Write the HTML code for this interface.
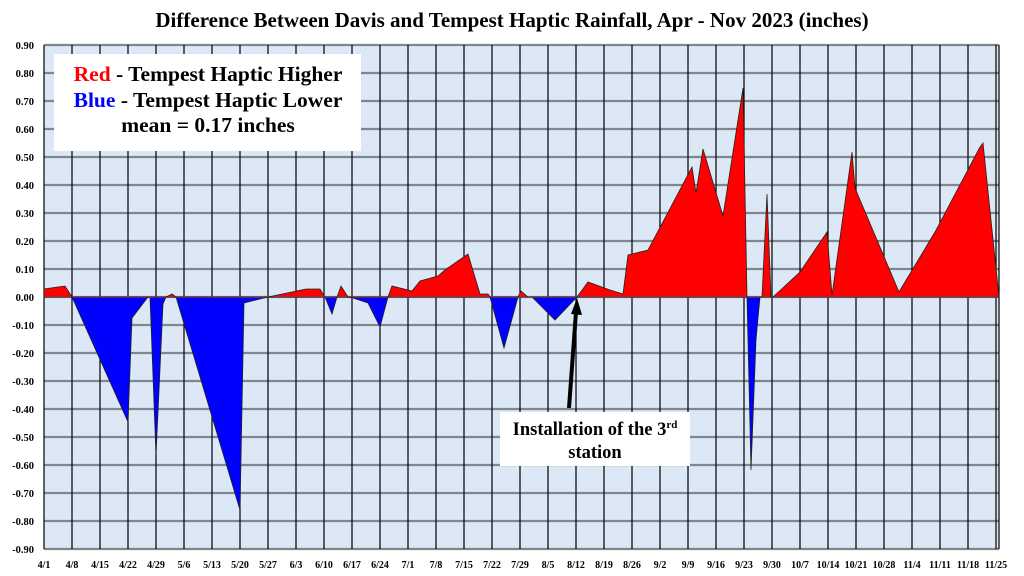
<!DOCTYPE html>
<html><head><style>body{margin:0;background:#fff}svg{display:block;font-family:"Liberation Serif",serif;font-weight:bold}</style></head>
<body>
<svg width="1024" height="576" viewBox="0 0 1024 576">
<text x="512" y="27" text-anchor="middle" font-size="21">Difference Between Davis and Tempest Haptic Rainfall, Apr - Nov 2023 (inches)</text>
<rect x="44" y="45" width="955" height="504" fill="#dce8f5"/>
<path stroke="#7f8690" stroke-width="2.2" fill="none" d="M44 45H999M44 73H999M44 101H999M44 129H999M44 157H999M44 185H999M44 213H999M44 241H999M44 269H999M44 297H999M44 325H999M44 353H999M44 381H999M44 409H999M44 437H999M44 465H999M44 493H999M44 521H999M44 549H999"/>
<path stroke="#000" stroke-width="1.2" fill="none" d="M44 45V549M72 45V549M100 45V549M128 45V549M156 45V549M184 45V549M212 45V549M240 45V549M268 45V549M296 45V549M324 45V549M352 45V549M380 45V549M408 45V549M436 45V549M464 45V549M492 45V549M520 45V549M548 45V549M576 45V549M604 45V549M632 45V549M660 45V549M688 45V549M716 45V549M744 45V549M772 45V549M800 45V549M828 45V549M856 45V549M884 45V549M912 45V549M940 45V549M968 45V549M996 45V549M999 45V549"/>
<g font-size="10.5" text-anchor="end">
<text x="34" y="49">0.90</text><text x="34" y="77">0.80</text><text x="34" y="105">0.70</text><text x="34" y="133">0.60</text><text x="34" y="161">0.50</text><text x="34" y="189">0.40</text><text x="34" y="217">0.30</text><text x="34" y="245">0.20</text><text x="34" y="273">0.10</text><text x="34" y="301">0.00</text><text x="34" y="329">-0.10</text><text x="34" y="357">-0.20</text><text x="34" y="385">-0.30</text><text x="34" y="413">-0.40</text><text x="34" y="441">-0.50</text><text x="34" y="469">-0.60</text><text x="34" y="497">-0.70</text><text x="34" y="525">-0.80</text><text x="34" y="553">-0.90</text>
</g>
<g font-size="10" text-anchor="middle">
<text x="44" y="568">4/1</text><text x="72" y="568">4/8</text><text x="100" y="568">4/15</text><text x="128" y="568">4/22</text><text x="156" y="568">4/29</text><text x="184" y="568">5/6</text><text x="212" y="568">5/13</text><text x="240" y="568">5/20</text><text x="268" y="568">5/27</text><text x="296" y="568">6/3</text><text x="324" y="568">6/10</text><text x="352" y="568">6/17</text><text x="380" y="568">6/24</text><text x="408" y="568">7/1</text><text x="436" y="568">7/8</text><text x="464" y="568">7/15</text><text x="492" y="568">7/22</text><text x="520" y="568">7/29</text><text x="548" y="568">8/5</text><text x="576" y="568">8/12</text><text x="604" y="568">8/19</text><text x="632" y="568">8/26</text><text x="660" y="568">9/2</text><text x="688" y="568">9/9</text><text x="716" y="568">9/16</text><text x="744" y="568">9/23</text><text x="772" y="568">9/30</text><text x="800" y="568">10/7</text><text x="828" y="568">10/14</text><text x="856" y="568">10/21</text><text x="884" y="568">10/28</text><text x="912" y="568">11/4</text><text x="940" y="568">11/11</text><text x="968" y="568">11/18</text><text x="996" y="568">11/25</text>
</g>
<defs>
<clipPath id="up"><rect x="0" y="0" width="1024" height="297"/></clipPath>
<clipPath id="dn"><rect x="0" y="297" width="1024" height="300"/></clipPath>
<polygon id="d" points="44,297 44,289 65,286 72,297 128,422 132,318 148,297 150,297 156,455 163,304 166,297 172,294 176,297 240,510 244,303 268,297 306,289 320,289 325,297 332,314 337,297 341,286 348,297 353,298 368,303 380,327 388,297 392,286 412,291 420,281 438,276 445,270 468,254 480,294 488,294 490,297 504,348 518,297 521,291 528,297 532,297 555,320 577,297 588,282 610,290 623,294 628,255 648,250 692,167 696,193 703,149 723,216 743,88 747,297 751,470 756,340 760,297 762,297 767,194 771,297 773,297 800,272 827,232 832,295 852,152 855,188 899,292 935,232 980,147 983,143 999,297"/>
</defs>
<use href="#d" fill="#f00" clip-path="url(#up)"/>
<use href="#d" fill="#00f" clip-path="url(#dn)"/>
<line x1="44" x2="999" y1="297" y2="297" stroke="#c05080" stroke-width="1.5"/>
<use href="#d" fill="none" stroke="#222" stroke-width="0.8"/>
<rect x="54" y="54" width="307" height="97" fill="#fff"/>
<text x="208" y="81" text-anchor="middle" font-size="21.5"><tspan fill="#f00">Red</tspan> - Tempest Haptic Higher</text>
<text x="208" y="107" text-anchor="middle" font-size="21.5"><tspan fill="#00f">Blue</tspan> - Tempest Haptic Lower</text>
<text x="208" y="132" text-anchor="middle" font-size="21.5">mean = 0.17 inches</text>
<rect x="500" y="412" width="190" height="54" fill="#fff"/>
<text x="595" y="435" text-anchor="middle" font-size="18.5">Installation of the 3<tspan font-size="11" dy="-7">rd</tspan></text>
<text x="595" y="458" text-anchor="middle" font-size="18.5">station</text>
<line x1="569" y1="408" x2="576" y2="312" stroke="#000" stroke-width="4"/>
<polygon points="577,298 571,314 582,315" fill="#000"/>
</svg>
</body></html>
